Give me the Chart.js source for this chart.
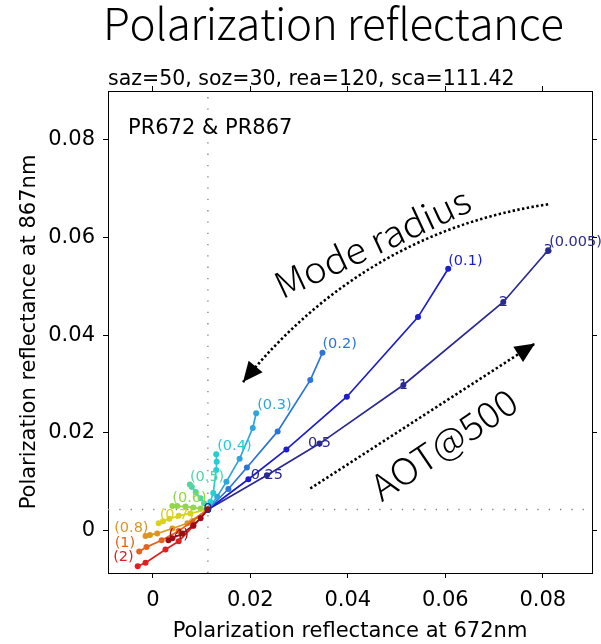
<!DOCTYPE html>
<html>
<head>
<meta charset="utf-8">
<script src="https://cdn.jsdelivr.net/npm/chart.js@4.4.1/dist/chart.umd.min.js"></script>
<style>
  html, body { margin: 0; padding: 0; background: #fff; }
  #wrap { width: 601px; height: 644px; }
</style>
</head>
<body>
<div id="wrap"><canvas id="prChart" width="601" height="644"></canvas></div>
<script>
// AOT@500 steps along every curve (first one is the Rayleigh-only point)
const aotSteps = ['0', '0.25', '0.5', '1', '2', '3'];
// mode radius of each curve
const modeRadii = ['0.005', '0.1', '0.2', '0.3', '0.4', '0.5', '0.6', '0.7', '0.8', '1', '2', '4'];

// Rayleigh-only point (AOT = 0), shared by all curves
const rayleighPR672 = 0.0113;
const rayleighPR867 = 0.0043;

// PR672 / PR867 for AOT 0.25, 0.5, 1, 2, 3
const pr672_r0005 = [0.0234, 0.0342, 0.0514, 0.0719, 0.0811];
const pr867_r0005 = [0.0113, 0.0178, 0.0298, 0.0468, 0.0574];
const pr672_r01 = [0.0196, 0.0274, 0.0398, 0.0544, 0.0606];
const pr867_r01 = [0.0105, 0.0166, 0.0274, 0.0437, 0.0536];
const pr672_r02 = [0.0155, 0.0193, 0.0256, 0.0323, 0.0348];
const pr867_r02 = [0.0085, 0.0129, 0.0203, 0.0308, 0.0364];
const pr672_r03 = [0.0132, 0.0151, 0.0178, 0.0205, 0.0212];
const pr867_r03 = [0.0069, 0.0100, 0.0147, 0.0210, 0.0240];
const pr672_r04 = [0.0118, 0.0124, 0.0130, 0.0131, 0.0130];
const pr867_r04 = [0.0059, 0.0077, 0.0124, 0.0141, 0.0156];
const pr672_r05 = [0.0105, 0.0098, 0.0088, 0.0080, 0.0076];
const pr867_r05 = [0.0056, 0.0066, 0.0079, 0.0089, 0.0094];
const pr672_r06 = [0.0098, 0.0083, 0.0067, 0.0050, 0.0040];
const pr867_r06 = [0.0045, 0.0047, 0.0049, 0.0050, 0.0050];
const pr672_r07 = [0.0077, 0.0053, 0.0034, 0.0021, 0.0012];
const pr867_r07 = [0.0035, 0.0030, 0.0024, 0.0019, 0.0015];
const pr672_r08 = [0.0071, 0.0040, 0.0009, -0.0006, -0.0015];
const pr867_r08 = [0.0015, 0.0004, -0.0006, -0.0009, -0.0011];
const pr672_r1 = [0.0081, 0.0053, 0.0018, -0.0013, -0.0028];
const pr867_r1 = [0.0019, -0.0001, -0.0020, -0.0034, -0.0043];
const pr672_r2 = [0.0083, 0.0053, 0.0026, -0.0015, -0.0031];
const pr867_r2 = [0.0009, -0.0022, -0.0039, -0.0066, -0.0073];
const pr672_r4 = [0.0098, 0.0083, 0.0061, 0.0040, 0.0032];
const pr867_r4 = [0.0025, 0.0011, -0.0006, -0.0016, -0.0020];

const seriesPR672 = [pr672_r0005, pr672_r01, pr672_r02, pr672_r03, pr672_r04, pr672_r05,
                     pr672_r06, pr672_r07, pr672_r08, pr672_r1, pr672_r2, pr672_r4];
const seriesPR867 = [pr867_r0005, pr867_r01, pr867_r02, pr867_r03, pr867_r04, pr867_r05,
                     pr867_r06, pr867_r07, pr867_r08, pr867_r1, pr867_r2, pr867_r4];

// axis ticks
const xTicks = [0, 0.02, 0.04, 0.06, 0.08];
const xTickLabels = ['0', '0.02', '0.04', '0.06', '0.08'];
const yTicks = [0, 0.02, 0.04, 0.06, 0.08];
const yTickLabels = ['0', '0.02', '0.04', '0.06', '0.08'];

// styles
const seriesColors = ['#2a2a92', '#1c1cd0', '#2c74d8', '#2ea6dc', '#22cfd4', '#4fd6a2',
                      '#92d64a', '#d8d21e', '#e0941e', '#e2621e', '#de2020', '#a00c16'];
// where each "(radius)" label sits relative to the last point, in px
const labelDx = [1, 0, 0, 1, 1, 0, 0, 1, 3, -4, -4, 0];
const labelDy = [-8, -8, -9, -8, -8, -7, -8, -8, -8, -8, -9, -5];
const labelAlign = ['left', 'left', 'left', 'left', 'left', 'left', 'left', 'left', 'right', 'right', 'right', 'left'];

const axisFont = '"DejaVu Sans", sans-serif';
const jpFont = '"Noto Sans CJK JP Light", "Noto Sans CJK JP", "Noto Sans", sans-serif';

const datasets = modeRadii.map((r, i) => {
    const xs = [rayleighPR672].concat(seriesPR672[i]);
    const ys = [rayleighPR867].concat(seriesPR867[i]);
    return {
        label: '(' + r + ')',
        data: xs.map((v, k) => ({ x: v, y: ys[k] })),
        showLine: true,
        borderColor: seriesColors[i],
        backgroundColor: seriesColors[i],
        borderWidth: 1.7,
        pointRadius: 3,
        pointBorderWidth: 0,
        pointBackgroundColor: seriesColors[i],
        order: modeRadii.length - i
    };
});

function dottedLine(ctx, pts, curve) {
    ctx.beginPath();
    ctx.moveTo(pts[0][0], pts[0][1]);
    if (curve) ctx.quadraticCurveTo(pts[1][0], pts[1][1], pts[2][0], pts[2][1]);
    else ctx.lineTo(pts[1][0], pts[1][1]);
    ctx.stroke();
}

function arrowHead(ctx, tipX, tipY, dirX, dirY) {
    const len = Math.hypot(dirX, dirY);
    const ux = dirX / len, uy = dirY / len;
    const bx = tipX - ux * 20, by = tipY - uy * 20;
    ctx.beginPath();
    ctx.moveTo(tipX, tipY);
    ctx.lineTo(bx - uy * 9, by + ux * 9);
    ctx.lineTo(bx + uy * 9, by - ux * 9);
    ctx.closePath();
    ctx.fill();
}

function fittedText(ctx, text, cx, cy, width, angle) {
    ctx.save();
    ctx.translate(cx, cy);
    ctx.rotate(angle);
    const w = ctx.measureText(text).width;
    ctx.scale(width / w, 1);
    ctx.textAlign = 'center';
    ctx.textBaseline = 'middle';
    ctx.fillText(text, 0, 0);
    ctx.restore();
}

// draws text letter by letter, spreading it over the given width
function spacedText(ctx, text, left, baseline, width) {
    const chars = text.split('');
    const natural = ctx.measureText(text).width;
    const extra = (width - natural) / (chars.length - 1);
    let xPos = left;
    ctx.textAlign = 'left';
    chars.forEach(c => {
        ctx.fillText(c, xPos, baseline);
        xPos += ctx.measureText(c).width + extra;
    });
}

// annotation anchors, in data units
const modeArrow = { start: [0.0811, 0.0668], ctrl: [0.0435, 0.0612], tip: [0.0185, 0.0304] };
const aotArrow = { start: [0.0323, 0.0086], tip: [0.0784, 0.0383] };

const prPlugin = {
    id: 'prAnnotations',
    beforeDatasetsDraw(chart) {
        const { ctx, chartArea, scales: { x, y } } = chart;
        const rx = x.getPixelForValue(rayleighPR672);
        const ry = y.getPixelForValue(rayleighPR867);
        ctx.save();
        ctx.strokeStyle = '#808080';
        ctx.lineWidth = 1.3;
        ctx.setLineDash([1.3, 10]);
        ctx.beginPath();
        ctx.moveTo(rx, chartArea.bottom);
        ctx.lineTo(rx, chartArea.top);
        ctx.moveTo(chartArea.left, ry);
        ctx.lineTo(chartArea.right, ry);
        ctx.stroke();
        ctx.restore();
    },
    afterDatasetsDraw(chart) {
        const { ctx, scales: { x, y } } = chart;
        const px = p => [x.getPixelForValue(p[0]), y.getPixelForValue(p[1])];
        ctx.save();

        // radius labels at the end of each curve
        ctx.font = '14.5px ' + axisFont;
        ctx.textBaseline = 'middle';
        chart.data.datasets.forEach((ds, i) => {
            const last = ds.data[ds.data.length - 1];
            ctx.fillStyle = seriesColors[i];
            ctx.textAlign = labelAlign[i];
            ctx.fillText(ds.label, x.getPixelForValue(last.x) + labelDx[i], y.getPixelForValue(last.y) + labelDy[i]);
        });

        // AOT values along the smallest-radius curve
        ctx.fillStyle = seriesColors[0];
        ctx.textAlign = 'center';
        chart.data.datasets[0].data.forEach((p, k) => {
            ctx.fillText(aotSteps[k], x.getPixelForValue(p.x), y.getPixelForValue(p.y));
        });

        // arrows
        ctx.strokeStyle = '#000';
        ctx.fillStyle = '#000';
        ctx.lineWidth = 2.6;
        ctx.setLineDash([2.4, 2.4]);
        const m0 = px(modeArrow.start), mc = px(modeArrow.ctrl), m1 = px(modeArrow.tip);
        dottedLine(ctx, [m0, mc, m1], true);
        const a0 = px(aotArrow.start), a1 = px(aotArrow.tip);
        dottedLine(ctx, [a0, a1], false);
        ctx.setLineDash([]);
        arrowHead(ctx, m1[0], m1[1], m1[0] - mc[0], m1[1] - mc[1]);
        arrowHead(ctx, a1[0], a1[1], a1[0] - a0[0], a1[1] - a0[1]);

        // big rotated labels
        ctx.font = '300 36px ' + jpFont;
        const mt = px([0.0450, 0.0590]);
        fittedText(ctx, 'Mode radius', mt[0], mt[1], 212, -25 * Math.PI / 180);
        const at = px([0.0597, 0.0177]);
        fittedText(ctx, 'AOT@500', at[0], at[1], 168, -34 * Math.PI / 180);

        // panel label
        ctx.font = '21px ' + axisFont;
        ctx.textAlign = 'left';
        ctx.textBaseline = 'alphabetic';
        ctx.fillText('PR672 & PR867', 128, 134);
        ctx.restore();
    },
    afterDraw(chart) {
        const { ctx } = chart;
        ctx.save();
        ctx.fillStyle = '#000';
        ctx.font = '300 44px ' + jpFont;
        ctx.textBaseline = 'alphabetic';
        spacedText(ctx, 'Polarization reflectance', 103, 40, 455);
        ctx.restore();

        ctx.save();
        ctx.fillStyle = '#000';
        ctx.font = '20.5px ' + axisFont;
        ctx.textAlign = 'left';
        ctx.textBaseline = 'alphabetic';
        ctx.fillText('saz=50, soz=30, rea=120, sca=111.42', 108, 85);
        ctx.restore();
    }
};

const tickGrid = { drawOnChartArea: false, drawTicks: true, tickLength: 5, color: '#000', lineWidth: 1 };
const axisBorder = { display: true, color: '#000', width: 1 };

const chart = new Chart(document.getElementById('prChart'), {
    type: 'scatter',
    data: { datasets: datasets },
    plugins: [prPlugin],
    options: {
        responsive: false,
        animation: false,
        layout: { padding: 0 },
        plugins: { legend: { display: false }, tooltip: { enabled: false }, title: { display: false } },
        scales: {
            x: {
                type: 'linear', position: 'bottom', min: -0.0092, max: 0.0901,
                afterBuildTicks: s => { s.ticks = xTicks.map(v => ({ value: v })); },
                afterFit: s => { s.height = 71; },
                ticks: { callback: (v, i) => xTickLabels[i], color: '#000', padding: 10, maxRotation: 0,
                         font: { family: axisFont, size: 21 } },
                grid: tickGrid, border: axisBorder,
                title: { display: true, text: 'Polarization reflectance at 672nm', color: '#000',
                         padding: { top: 0, bottom: 0 }, font: { family: axisFont, size: 21 } }
            },
            xTop: {
                type: 'linear', position: 'top', min: -0.0092, max: 0.0901,
                afterBuildTicks: s => { s.ticks = xTicks.map(v => ({ value: v })); },
                afterFit: s => { s.height = 91; },
                ticks: { display: false }, grid: tickGrid, border: axisBorder
            },
            y: {
                type: 'linear', position: 'left', min: -0.0087, max: 0.0900,
                afterBuildTicks: s => { s.ticks = yTicks.map(v => ({ value: v })); },
                afterFit: s => { s.width = 108; },
                ticks: { callback: (v, i) => yTickLabels[i], color: '#000', padding: 8,
                         font: { family: axisFont, size: 21 } },
                grid: tickGrid, border: axisBorder,
                title: { display: true, text: 'Polarization reflectance at 867nm', color: '#000',
                         padding: { top: 17, bottom: 0 }, font: { family: axisFont, size: 21 } }
            },
            yRight: {
                type: 'linear', position: 'right', min: -0.0087, max: 0.0900,
                afterBuildTicks: s => { s.ticks = yTicks.map(v => ({ value: v })); },
                afterFit: s => { s.width = 9; },
                ticks: { display: false }, grid: tickGrid, border: axisBorder
            }
        }
    }
});
</script>
</body>
</html>
